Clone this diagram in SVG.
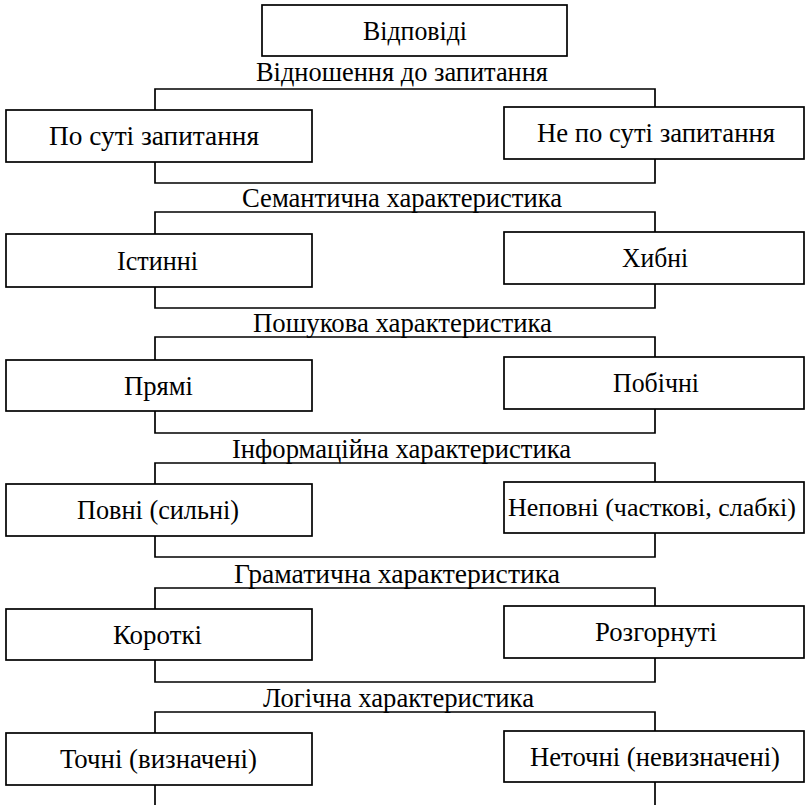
<svg xmlns="http://www.w3.org/2000/svg" width="805" height="805" viewBox="0 0 805 805">
<style>
.box{fill:#fff;stroke:#000;stroke-width:1.7}
.con{fill:none;stroke:#000;stroke-width:1.7}
.t{font-family:'Liberation Serif','Times New Roman','DejaVu Serif',serif;font-size:27px;fill:#000}
</style>
<rect width="805" height="805" fill="#fff"/>
<g id="connectors">
<path class="con" d="M155,110V89H655V107"/>
<path class="con" d="M155,162V183H655V159"/>
<path class="con" d="M155,234V212H655V232"/>
<path class="con" d="M155,287V308H655V284"/>
<path class="con" d="M155,360V337H655V357"/>
<path class="con" d="M155,411V433H655V409"/>
<path class="con" d="M155,484V463H655V482"/>
<path class="con" d="M155,536V557H655V533"/>
<path class="con" d="M155,609V588H655V606"/>
<path class="con" d="M155,660V682H655V658"/>
<path class="con" d="M155,733V712H655V731"/>
<path class="con" d="M155,785V805M655,782V805"/>
</g>
<g id="labels" font-family="Liberation Serif, Times New Roman, serif" font-size="27">
<text class="t" x="256" y="81" textLength="292" lengthAdjust="spacingAndGlyphs">Відношення до запитання</text>
<text class="t" x="242" y="207" textLength="320" lengthAdjust="spacingAndGlyphs">Семантична характеристика</text>
<text class="t" x="253" y="332" textLength="299" lengthAdjust="spacingAndGlyphs">Пошукова характеристика</text>
<text class="t" x="232" y="458" textLength="339" lengthAdjust="spacingAndGlyphs">Інформаційна характеристика</text>
<text class="t" x="234" y="583" textLength="326" lengthAdjust="spacingAndGlyphs">Граматична характеристика</text>
<text class="t" x="263" y="707" textLength="271" lengthAdjust="spacingAndGlyphs">Логічна характеристика</text>
</g>
<g font-family="Liberation Serif, Times New Roman, serif" font-size="27">
<g id="root"><rect class="box" x="262" y="5" width="305" height="51"/><text class="t" x="363" y="39.5" textLength="104" lengthAdjust="spacingAndGlyphs">Відповіді</text></g>
<g id="n1l"><rect class="box" x="6" y="110" width="306" height="52"/><text class="t" x="49" y="145" textLength="210" lengthAdjust="spacingAndGlyphs">По суті запитання</text></g>
<g id="n1r"><rect class="box" x="504" y="107" width="300" height="52"/><text class="t" x="537" y="142" textLength="238" lengthAdjust="spacingAndGlyphs">Не по суті запитання</text></g>
<g id="n2l"><rect class="box" x="6" y="234" width="306" height="53"/><text class="t" x="117" y="269.5" textLength="81" lengthAdjust="spacingAndGlyphs">Істинні</text></g>
<g id="n2r"><rect class="box" x="504" y="232" width="300" height="52"/><text class="t" x="622" y="267" textLength="66" lengthAdjust="spacingAndGlyphs">Хибні</text></g>
<g id="n3l"><rect class="box" x="6" y="360" width="306" height="51"/><text class="t" x="124" y="394.5" textLength="69" lengthAdjust="spacingAndGlyphs">Прямі</text></g>
<g id="n3r"><rect class="box" x="504" y="357" width="300" height="52"/><text class="t" x="613" y="392" textLength="86" lengthAdjust="spacingAndGlyphs">Побічні</text></g>
<g id="n4l"><rect class="box" x="6" y="484" width="306" height="52"/><text class="t" x="77" y="519" textLength="162" lengthAdjust="spacingAndGlyphs">Повні (сильні)</text></g>
<g id="n4r"><rect class="box" x="504" y="482" width="300" height="51"/><text class="t" x="508" y="516" style="font-size:25px" textLength="288" lengthAdjust="spacingAndGlyphs">Неповні (часткові, слабкі)</text></g>
<g id="n5l"><rect class="box" x="6" y="609" width="306" height="51"/><text class="t" x="113" y="643.5" textLength="89" lengthAdjust="spacingAndGlyphs">Короткі</text></g>
<g id="n5r"><rect class="box" x="504" y="606" width="300" height="52"/><text class="t" x="595" y="641" textLength="122" lengthAdjust="spacingAndGlyphs">Розгорнуті</text></g>
<g id="n6l"><rect class="box" x="6" y="733" width="306" height="52"/><text class="t" x="60" y="768" textLength="197" lengthAdjust="spacingAndGlyphs">Точні (визначені)</text></g>
<g id="n6r"><rect class="box" x="504" y="731" width="300" height="51"/><text class="t" x="530" y="765.5" textLength="250" lengthAdjust="spacingAndGlyphs">Неточні (невизначені)</text></g>
</g>
</svg>
